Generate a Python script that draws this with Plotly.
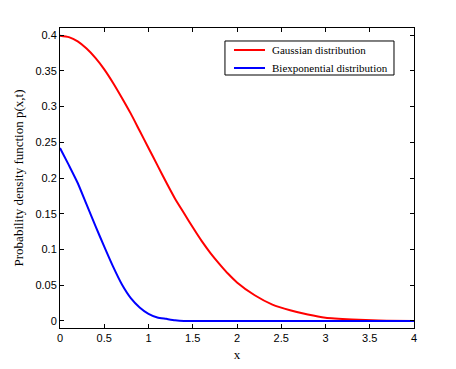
import plotly.graph_objects as go

# values
x_gauss = [0, 0.1, 0.2, 0.3, 0.4, 0.5, 0.6, 0.7, 0.8, 0.9, 1.0, 1.1, 1.2, 1.3, 1.4, 1.5,
           1.6, 1.7, 1.8, 1.9, 2.0, 2.2, 2.4, 2.6, 2.8, 3.0, 3.3, 3.6, 4.0]
y_gauss = [0.399, 0.397, 0.391, 0.381, 0.368, 0.352, 0.333, 0.312, 0.290, 0.266, 0.242,
           0.218, 0.194, 0.171, 0.151, 0.131, 0.112, 0.095, 0.080, 0.066, 0.054, 0.036,
           0.023, 0.015, 0.009, 0.0045, 0.002, 0.0006, 0.0001]

x_biexp = [0, 0.1, 0.2, 0.3, 0.4, 0.5, 0.6, 0.7, 0.8, 0.9, 1.0, 1.1, 1.2, 1.3, 1.4, 2.0, 3.0, 4.0]
y_biexp = [0.242, 0.218, 0.193, 0.163, 0.133, 0.104, 0.076, 0.051, 0.032, 0.019, 0.010,
           0.005, 0.003, 0.001, 0.0, 0.0, 0.0, 0.0]

x_ticks = [0, 0.5, 1, 1.5, 2, 2.5, 3, 3.5, 4]
y_ticks = [0, 0.05, 0.1, 0.15, 0.2, 0.25, 0.3, 0.35, 0.4]

series_names = ['Gaussian distribution', 'Biexponential distribution']
series_colors = ['#ff0000', '#0000ff']

serif = 'Liberation Serif, Times New Roman'

fig = go.Figure()
fig.add_trace(go.Scatter(x=x_gauss, y=y_gauss, mode='lines', name=series_names[0],
                         line=dict(color=series_colors[0], width=2, shape='spline', smoothing=0.6)))
fig.add_trace(go.Scatter(x=x_biexp, y=y_biexp, mode='lines', name=series_names[1],
                         line=dict(color=series_colors[1], width=2, shape='spline', smoothing=0.6)))

axis_style = dict(showline=True, linecolor='black', linewidth=1, mirror='ticks',
                  ticks='inside', ticklen=4, tickcolor='black', showgrid=False, zeroline=False,
                  automargin=False,
                  tickfont=dict(family='Liberation Sans, Arial', size=11, color='black'))

fig.update_xaxes(range=[0, 4], tickvals=x_ticks, ticktext=[str(v) for v in x_ticks],
                 title=dict(text='x', font=dict(family=serif, size=13, color='black'), standoff=6),
                 **axis_style)
fig.update_yaxes(range=[-0.0098, 0.4098], tickvals=y_ticks, ticktext=[str(v) for v in y_ticks],
                 title=dict(text='Probability density function p(x,t)',
                            font=dict(family=serif, size=13, color='black'), standoff=8),
                 **axis_style)

# MATLAB-style legend box, drawn by hand so the rows sit close together
fig.add_shape(type='rect', xref='paper', yref='paper', x0=0.466, x1=0.9435, y0=0.8433, y1=0.9567,
              line=dict(color='black', width=1), fillcolor='white', layer='above')
for i, (name, color) in enumerate(zip(series_names, series_colors)):
    ly = 0.9267 - i * 0.06
    fig.add_shape(type='line', xref='paper', yref='paper', x0=0.4915, x1=0.5791, y0=ly, y1=ly,
                  line=dict(color=color, width=2), layer='above')
    fig.add_annotation(xref='paper', yref='paper', x=0.5932, y=ly, text=name, showarrow=False,
                       xanchor='left', yanchor='middle',
                       font=dict(family=serif, size=11, color='black'))

# the page adds an 8px body margin, so the figure is drawn 8px smaller
fig.update_layout(
    width=448, height=361,
    margin=dict(l=52, r=42, t=20, b=41),
    paper_bgcolor='white', plot_bgcolor='white',
    showlegend=False,
)

fig.write_html("out.html")
